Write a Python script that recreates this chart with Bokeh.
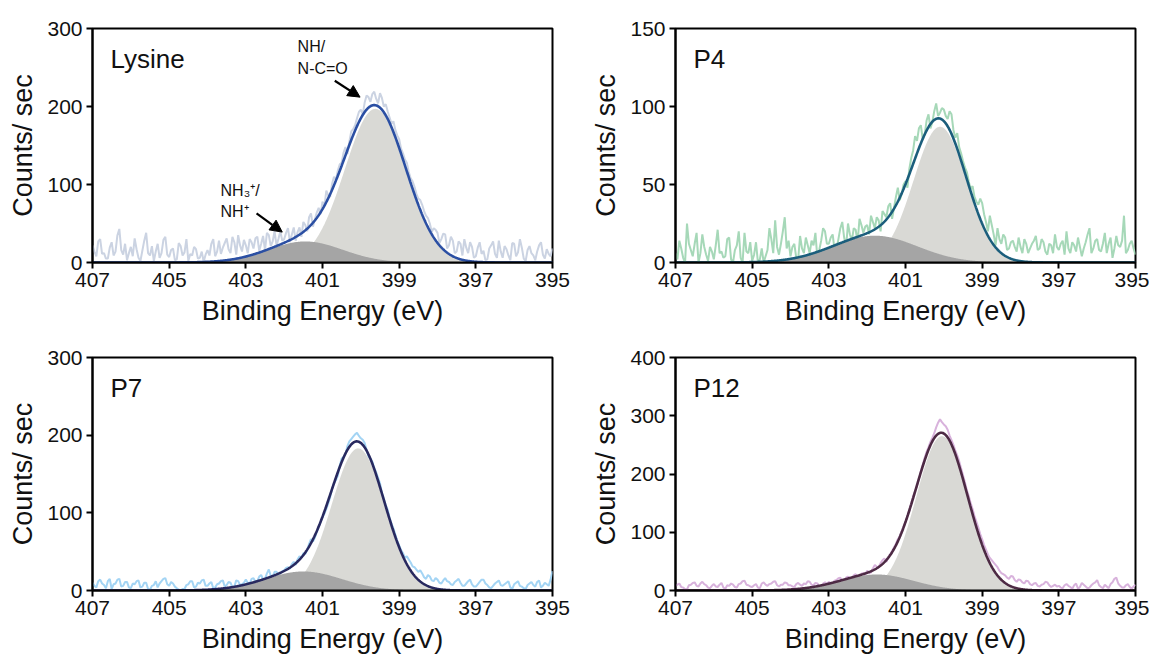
import numpy as np
from bokeh.plotting import figure
from bokeh.models import Range1d, FixedTicker, Label, Arrow, NormalHead
from bokeh.layouts import column, row
from bokeh.embed import file_html
from bokeh.resources import INLINE

# ---------------- data ----------------
# raw spectra, counts/sec, sampled every 0.05 eV from 407.0 eV down to 395.0 eV
# (one row = 1 eV)
lysine_raw = [22, 14, 8, 27, 30, 11, 12, 5, 5, 19, 26, 9, 14, 35, 43, 16, 10, 24, 3, 12,
              20, 8, 31, 17, 6, 2, 15, 28, 38, 12, 9, 21, 2, 14, 24, 6, 12, 29, 33, 10,
              7, 16, 18, 3, 4, 25, 21, 9, 13, 30, 2, 11, 9, 20, 17, 5, 6, 14, 1, 10,
              16, 9, 24, 30, 8, 14, 28, 11, 19, 25, 31, 17, 12, 33, 26, 10, 35, 22, 14, 29,
              22, 12, 30, 26, 18, 31, 33, 15, 24, 34, 16, 38, 35, 21, 27, 40, 22, 30, 40, 28,
              30, 38, 44, 26, 36, 45, 28, 39, 45, 33, 52, 48, 40, 58, 63, 46, 55, 64, 70, 62,
              78, 72, 92, 86, 84, 101, 110, 106, 118, 126, 128, 141, 148, 139, 155, 168, 171, 176, 185, 193,
              196, 190, 205, 214, 212, 206, 216, 219, 210, 204, 217, 211, 200, 203, 194, 186, 178, 181, 170, 163,
              158, 146, 140, 132, 128, 116, 108, 104, 97, 88, 82, 80, 74, 66, 60, 57, 50, 39, 44, 42,
              38, 25, 30, 37, 36, 18, 22, 33, 28, 12, 14, 27, 24, 9, 30, 19, 12, 26, 20, 6,
              8, 19, 26, 11, 15, 3, 4, 18, 22, 27, 11, 6, 28, 14, 6, 21, 17, 9, 3, 25,
              24, 8, 13, 30, 19, 5, 2, 16, 21, 12, 9, 3, 14, 22, 26, 10, 5, 17, 11, 8,
              18]
p4_raw = [6, 2, 14, 9, 3, 0, 25, 12, 8, 4, 12, 19, 0, 6, 18, 10, 5, 1, 10, 7,
          2, 11, 21, 6, 7, 3, 4, 15, 16, 2, 0, 8, 11, 20, 3, 0, 19, 7, 6, 13,
          1, 5, 13, 0, 2, 9, 0, 4, 8, 22, 15, 6, 27, 10, 5, 12, 20, 29, 9, 14,
          4, 10, 12, 3, 2, 17, 9, 6, 16, 11, 6, 14, 11, 19, 3, 8, 14, 22, 20, 12,
          12, 16, 18, 8, 9, 15, 22, 26, 16, 10, 25, 18, 14, 22, 21, 13, 28, 24, 19, 23,
          24, 18, 30, 26, 22, 29, 27, 20, 33, 31, 29, 36, 38, 28, 35, 42, 48, 40, 44, 50,
          52, 48, 60, 67, 72, 81, 78, 86, 88, 79, 82, 91, 95, 86, 90, 97, 102, 94, 96, 99,
          98, 94, 92, 97, 95, 85, 80, 83, 74, 70, 65, 61, 58, 52, 47, 49, 42, 39, 37, 41,
          38, 31, 26, 20, 30, 24, 18, 11, 22, 15, 12, 18, 16, 8, 9, 13, 14, 10, 7, 16,
          10, 6, 15, 12, 6, 9, 12, 14, 17, 8, 9, 15, 13, 7, 5, 12, 11, 6, 18, 10,
          8, 12, 14, 5, 20, 9, 6, 13, 11, 7, 16, 10, 4, 9, 13, 18, 22, 6, 9, 14,
          15, 8, 7, 12, 19, 6, 12, 16, 3, 9, 17, 11, 10, 14, 30, 6, 8, 12, 14, 9,
          5]
p7_raw = [10, 6, 4, 12, 14, 9, 7, 3, 12, 15, 2, 8, 9, 14, 15, 5, 6, 11, 11, 4,
          3, 9, 8, 12, 13, 4, 5, 10, 10, 2, 1, 6, 7, 12, 4, 9, 12, 15, 16, 8,
          6, 11, 9, 5, 3, 1, 0, 2, 2, 7, 8, 12, 12, 4, 5, 10, 9, 13, 14, 6,
          6, 9, 11, 3, 4, 8, 9, 12, 13, 5, 7, 11, 10, 4, 5, 13, 12, 7, 8, 10,
          14, 10, 9, 15, 16, 11, 12, 18, 20, 14, 15, 22, 27, 19, 18, 24, 24, 21, 22, 25,
          26, 29, 30, 28, 34, 37, 33, 40, 44, 42, 48, 47, 52, 60, 66, 63, 68, 75, 82, 88,
          94, 99, 105, 112, 120, 131, 138, 142, 148, 161, 170, 172, 176, 186, 192, 195, 198, 201, 203, 199,
          196, 194, 190, 181, 172, 170, 166, 158, 152, 145, 138, 126, 118, 110, 104, 94, 86, 80, 72, 64,
          58, 52, 48, 42, 44, 40, 36, 31, 30, 27, 24, 26, 22, 17, 15, 20, 18, 13, 12, 16,
          14, 10, 9, 13, 16, 12, 11, 8, 7, 11, 13, 15, 10, 6, 6, 9, 12, 14, 8, 5,
          5, 8, 11, 14, 14, 9, 7, 4, 3, 6, 9, 11, 13, 7, 6, 8, 10, 12, 4, 2,
          8, 10, 12, 6, 5, 3, 2, 7, 9, 11, 7, 5, 11, 13, 4, 6, 10, 8, 6, 14,
          25]
p12_raw = [8, 10, 12, 6, 5, 2, 2, 9, 10, 13, 14, 8, 7, 12, 15, 11, 9, 5, 4, 8,
           11, 7, 6, 10, 13, 5, 3, 9, 8, 12, 10, 6, 5, 11, 12, 16, 17, 10, 9, 7,
           6, 9, 11, 5, 4, 12, 14, 10, 8, 11, 12, 15, 16, 9, 7, 10, 10, 14, 13, 9,
           9, 7, 6, 11, 13, 10, 8, 12, 11, 16, 15, 10, 9, 13, 12, 8, 7, 12, 14, 11,
           15, 13, 12, 17, 18, 21, 22, 16, 17, 22, 24, 19, 20, 26, 28, 23, 25, 29, 30, 27,
           34, 30, 31, 38, 44, 41, 40, 47, 52, 55, 49, 57, 62, 68, 74, 80, 88, 93, 102, 110,
           118, 128, 138, 150, 162, 170, 180, 192, 205, 216, 228, 238, 246, 255, 262, 270, 280, 288, 294, 289,
           285, 282, 276, 266, 258, 250, 240, 232, 222, 210, 198, 186, 172, 162, 150, 140, 128, 118, 108, 97,
           88, 78, 70, 62, 56, 52, 48, 44, 40, 34, 30, 28, 26, 22, 20, 25, 24, 18, 15, 19,
           18, 14, 12, 17, 16, 11, 9, 12, 13, 8, 7, 10, 11, 15, 14, 9, 6, 8, 10, 7,
           8, 5, 4, 9, 11, 8, 6, 3, 9, 12, 3, 6, 13, 10, 7, 4, 5, 9, 12, 14,
           18, 9, 6, 4, 10, 7, 4, 11, 14, 20, 22, 12, 8, 5, 5, 9, 11, 6, 3, 7,
           10]

# fitted peak components: (centre eV, FWHM eV, height counts/sec)
lysine_main, lysine_minor = (399.62, 1.88, 197), (401.45, 2.30, 27)
p4_main, p4_minor = (400.10, 1.62, 87), (401.80, 2.60, 17.2)
p7_main, p7_minor = (400.07, 1.62, 183), (401.50, 2.35, 24.5)
p12_main, p12_minor = (400.05, 1.58, 265), (401.75, 2.26, 27.5)

names = ["Lysine", "P4", "P7", "P12"]
y_max = [300, 150, 300, 400]
y_ticks = [[0, 100, 200, 300], [0, 50, 100, 150], [0, 100, 200, 300], [0, 100, 200, 300, 400]]
x_ticks = [407, 405, 403, 401, 399, 397, 395]
raw_colors = ["#cbd3e2", "#a6d8b8", "#a3d4f4", "#d8b2dc"]
fit_colors = ["#2b4fa3", "#1b5e7c", "#28295f", "#4d2a44"]
MAIN_FILL = "#d9d9d5"
MINOR_FILL = "#a5a5a5"
FONT = "Liberation Sans"

energy = np.linspace(407.0, 395.0, len(lysine_raw))
fit_energy = np.linspace(407.0, 395.0, 961)


def component(x, params):
    c, fwhm, h = params
    s = fwhm / 2.3548
    return h * np.exp(-0.5 * ((x - c) / s) ** 2)


def make_panel(i, raw, main, minor, width, height, bl, br, bt, bb):
    p = figure(width=width, height=height,
               x_range=Range1d(407, 395), y_range=Range1d(0, y_max[i]),
               output_backend="svg", toolbar_location=None,
               min_border_left=bl, min_border_right=br,
               min_border_top=bt, min_border_bottom=bb)
    p.line(energy, raw, line_color=raw_colors[i], line_width=2)
    main_y = component(fit_energy, main)
    minor_y = component(fit_energy, minor)
    p.varea(x=fit_energy, y1=0, y2=main_y, fill_color=MAIN_FILL)
    p.varea(x=fit_energy, y1=0, y2=minor_y, fill_color=MINOR_FILL)
    p.line(fit_energy, main_y + minor_y, line_color=fit_colors[i], line_width=2.6)

    p.xgrid.visible = False
    p.ygrid.visible = False
    p.outline_line_color = "black"
    p.outline_line_width = 2
    p.outline_line_alpha = 1
    p.xaxis.ticker = FixedTicker(ticks=x_ticks)
    p.yaxis.ticker = FixedTicker(ticks=y_ticks[i])
    p.xaxis.axis_label = "Binding Energy (eV)"
    p.yaxis.axis_label = "Counts/ sec"
    for ax in (p.xaxis[0], p.yaxis[0]):
        ax.axis_line_width = 2
        ax.axis_line_color = "black"
        ax.major_tick_line_width = 2
        ax.major_tick_line_color = "black"
        ax.major_tick_out = 6
        ax.major_tick_in = 0
        ax.minor_tick_line_color = None
        ax.major_label_text_font = FONT
        ax.major_label_text_font_size = "21px"
        ax.major_label_text_color = "#111111"
        ax.major_label_standoff = 4
        ax.axis_label_text_font = FONT
        ax.axis_label_text_font_size = "27px"
        ax.axis_label_text_font_style = "normal"
        ax.axis_label_text_color = "#111111"
    p.xaxis.axis_label_standoff = 6
    p.yaxis.axis_label_standoff = 6

    p.add_layout(Label(x=406.53, y=y_max[i] * 0.87, text=names[i],
                       text_font=FONT, text_font_size="26px",
                       text_baseline="middle", text_color="#111111"))
    return p


p1 = make_panel(0, lysine_raw, lysine_main, lysine_minor, 583, 338, 92, 31, 28, 76)
p2 = make_panel(1, p4_raw, p4_main, p4_minor, 566, 338, 92, 14, 28, 76)
p3 = make_panel(2, p7_raw, p7_main, p7_minor, 583, 319, 92, 31, 19, 67)
p4 = make_panel(3, p12_raw, p12_main, p12_minor, 566, 319, 92, 14, 19, 67)

# annotations on the lysine panel
ANN = dict(text_font=FONT, text_font_size="16px", text_baseline="middle", text_color="#111111")
p1.add_layout(Label(x=401.65, y=277, text="NH/", **ANN))
p1.add_layout(Label(x=401.65, y=249, text="N-C=O", **ANN))
p1.add_layout(Label(x=403.66, y=92, text="NH\u2083\u207a/", **ANN))
p1.add_layout(Label(x=403.66, y=65, text="NH\u207a", **ANN))
p1.add_layout(Arrow(x_start=400.68, y_start=233, x_end=400.02, y_end=212,
                    line_width=2.2, line_color="black",
                    end=NormalHead(size=12, fill_color="black", line_color="black")))
p1.add_layout(Arrow(x_start=402.72, y_start=63, x_end=402.05, y_end=39,
                    line_width=2.2, line_color="black",
                    end=NormalHead(size=12, fill_color="black", line_color="black")))

layout = column(row(p1, p2), row(p3, p4))
open("out.html", "w").write(file_html(layout, INLINE))
